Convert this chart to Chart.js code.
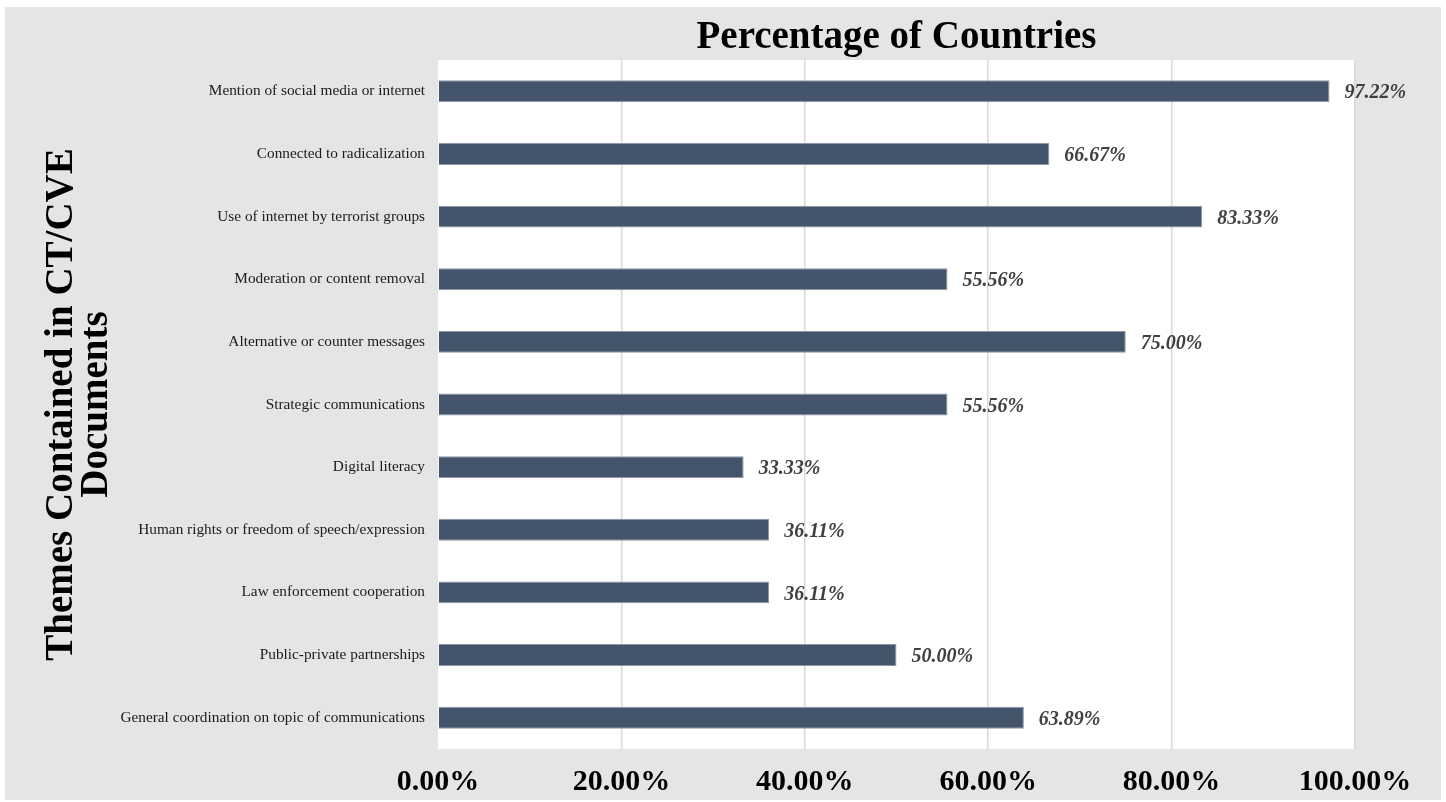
<!DOCTYPE html>
<html>
<head>
<meta charset="utf-8">
<title>Percentage of Countries</title>
<script src="https://cdn.jsdelivr.net/npm/chart.js@4/dist/chart.umd.min.js"></script>
<style>
    html, body { margin: 0; padding: 0; background: #ffffff; }
    #wrap { width: 1446px; height: 802px; }
</style>
</head>
<body>
<div id="wrap"><canvas id="themesChart" width="1446" height="802"></canvas></div>
<script>
// Data
const themes = [
    'Mention of social media or internet',
    'Connected to radicalization',
    'Use of internet by terrorist groups',
    'Moderation or content removal',
    'Alternative or counter messages',
    'Strategic communications',
    'Digital literacy',
    'Human rights or freedom of speech/expression',
    'Law enforcement cooperation',
    'Public-private partnerships',
    'General coordination on topic of communications'
];
const percentages = [97.22, 66.67, 83.33, 55.56, 75.00, 55.56, 33.33, 36.11, 36.11, 50.00, 63.89];
const xTicks = [0, 20, 40, 60, 80, 100];

const chartTitle = 'Percentage of Countries';
const yTitleLines = ['Themes Contained in CT/CVE', 'Documents'];

const SERIF = '"Liberation Serif", "DejaVu Serif", serif';

document.addEventListener('DOMContentLoaded', function() {
    initThemesChart();
});

// Fondo gris + zona blanca del gráfico
const backgroundPlugin = {
    id: 'backgroundPlugin',
    beforeDraw(chart) {
        const ctx = chart.ctx;
        const area = chart.chartArea;
        ctx.save();
        ctx.fillStyle = '#ffffff';
        ctx.fillRect(0, 0, chart.width, chart.height);
        ctx.fillStyle = '#e5e5e5';
        ctx.fillRect(5, 7, 1436, 793);
        ctx.fillStyle = '#ffffff';
        ctx.fillRect(area.left, area.top, area.right - area.left, area.bottom - area.top);
        ctx.restore();
    }
};

// Títulos y etiquetas de valores
const textPlugin = {
    id: 'textPlugin',
    afterDatasetsDraw(chart) {
        const ctx = chart.ctx;
        const area = chart.chartArea;
        ctx.save();

        // Etiquetas de valores
        ctx.fillStyle = '#404040';
        ctx.font = 'italic bold 20px ' + SERIF;
        ctx.textAlign = 'left';
        ctx.textBaseline = 'middle';
        const meta = chart.getDatasetMeta(0);
        meta.data.forEach((bar, i) => {
            ctx.fillText(percentages[i].toFixed(2) + '%', bar.x + 15, bar.y + 2);
        });

        // Título
        ctx.fillStyle = '#000000';
        ctx.font = 'bold 39px ' + SERIF;
        ctx.textAlign = 'center';
        ctx.fillText(chartTitle, (area.left + area.right) / 2, 38);

        // Título del eje Y (rotado)
        const cy = (area.top + area.bottom) / 2;
        ctx.translate(79, cy);
        ctx.rotate(-Math.PI / 2);
        ctx.font = 'bold 39px ' + SERIF;
        ctx.fillText(yTitleLines[0], 0, -17);
        ctx.fillText(yTitleLines[1], 0, 18);
        ctx.restore();
    }
};

function initThemesChart() {
    const canvas = document.getElementById('themesChart');
    if (!canvas) return;

    const ctx = canvas.getContext('2d');

    new Chart(ctx, {
        type: 'bar',
        data: {
            labels: themes,
            datasets: [{
                data: percentages,
                backgroundColor: '#44546a',
                borderColor: '#8a97a8',
                borderWidth: 1,
                categoryPercentage: 1,
                barPercentage: 0.35
            }]
        },
        options: {
            indexAxis: 'y',
            responsive: false,
            animation: false,
            layout: {
                padding: { left: 5, right: 91, top: 60, bottom: 0 }
            },
            plugins: {
                legend: { display: false },
                title: { display: false },
                tooltip: { enabled: false }
            },
            scales: {
                x: {
                    min: 0,
                    max: 100,
                    afterBuildTicks: function(axis) {
                        axis.ticks = xTicks.map(v => ({ value: v }));
                    },
                    afterFit: function(axis) {
                        axis.height = 53;
                    },
                    border: { display: false },
                    grid: {
                        drawTicks: false,
                        lineWidth: 1.5,
                        color: function(c) {
                            return c.tick && c.tick.value === 0 ? 'rgba(0,0,0,0)' : '#d9d9d9';
                        }
                    },
                    ticks: {
                        padding: 15,
                        color: '#000000',
                        maxRotation: 0,
                        font: { family: SERIF, size: 30, weight: 'bold' },
                        callback: function(value) {
                            return value.toFixed(2) + '%';
                        }
                    }
                },
                y: {
                    afterFit: function(axis) {
                        axis.width = 433;
                    },
                    border: { display: false },
                    grid: { display: false, drawTicks: false },
                    ticks: {
                        padding: 13,
                        color: '#1a1a1a',
                        font: { family: SERIF, size: 15.3 }
                    }
                }
            }
        },
        plugins: [backgroundPlugin, textPlugin]
    });
}
</script>
</body>
</html>
